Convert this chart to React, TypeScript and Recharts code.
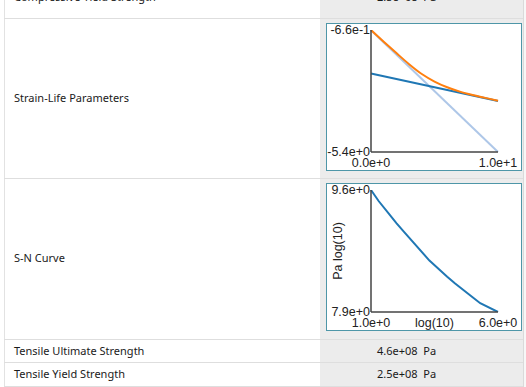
import { Label, Line, LineChart, XAxis, YAxis } from "recharts";

// strain-life parameters, log10 strain against log10 reversals
const cycleTicks = [0, 10];
const strainTicks = [-5.37, -0.66];
const elasticCycles = [0, 10];
const elasticStrain = [-2.34, -3.4];
const plasticCycles = [0, 10];
const plasticStrain = [-0.67, -5.37];
const totalCycles = [0, 1, 2, 3, 4, 5, 6, 7, 8, 9, 10];
const totalStrain = [
  -0.66, -1.11, -1.55, -1.98, -2.36, -2.65, -2.87, -3.04, -3.17, -3.28, -3.39,
];

// S-N curve, log10 stress against log10 cycles
const snCycleTicks = [1, 6];
const snStressTicks = [7.94, 9.6];
const snCycles = [1, 1.3, 1.7, 2, 2.3, 3.3, 4, 4.3, 5, 5.3, 6];
const snStress = [9.6, 9.45, 9.28, 9.15, 9.03, 8.64, 8.42, 8.33, 8.14, 8.06, 7.94];

const rowLabels = [
  "Compressive Yield Strength",
  "Strain-Life Parameters",
  "S-N Curve",
  "Tensile Ultimate Strength",
  "Tensile Yield Strength",
];
const rowValues = ["2.5e+08", "", "", "4.6e+08", "2.5e+08"];
const valueUnit = "Pa";

const toPoints = (xs: number[], ys: number[]) =>
  xs.map((x, i) => ({ x, y: ys[i] }));

const fmt = (v: number) => v.toExponential(1);

const tickStyle = {
  fontFamily: "'Liberation Sans', Arial, sans-serif",
  fontSize: 12.5,
  fill: "#222",
};
const axisLine = { stroke: "#444", strokeWidth: 1.5 };

// text centre of each row, and row borders
const rowCentres = [-3, 97.5, 258, 351, 374];
const rowLines = [18, 178, 339, 362, 386];

const boxStyle = (top: number): React.CSSProperties => ({
  position: "absolute",
  left: 326,
  top,
  width: 194,
  height: 146,
  border: "1px solid #4e96a8",
  background: "#fff",
});

function YTitle(props: any) {
  const vb = props.viewBox || { x: 0, y: 6, width: 44, height: 122 };
  const cx = vb.x + 11;
  const cy = vb.y + vb.height / 2;
  return (
    <text
      x={cx}
      y={cy}
      transform={`rotate(-90, ${cx}, ${cy})`}
      textAnchor="middle"
      dominantBaseline="central"
      style={tickStyle}
    >
      Pa log(10)
    </text>
  );
}

function StrainLifeChart() {
  return (
    <LineChart
      width={194}
      height={146}
      margin={{ top: 6, right: 23, bottom: 0, left: 0 }}
    >
      <XAxis
        type="number"
        dataKey="x"
        domain={[0, 10]}
        ticks={cycleTicks}
        interval={0}
        tickFormatter={fmt}
        tickLine={false}
        tickSize={0}
        tickMargin={6}
        height={18}
        axisLine={axisLine}
        tick={tickStyle}
      />
      <YAxis
        type="number"
        dataKey="y"
        domain={[strainTicks[0], strainTicks[1]]}
        allowDataOverflow
        ticks={strainTicks}
        interval={0}
        tickFormatter={fmt}
        tickLine={false}
        tickSize={0}
        tickMargin={1}
        width={44}
        axisLine={axisLine}
        tick={tickStyle}
      />
      <Line
        data={toPoints(plasticCycles, plasticStrain)}
        dataKey="y"
        stroke="#aec7e8"
        strokeWidth={2}
        dot={false}
        type="linear"
        isAnimationActive={false}
      />
      <Line
        data={toPoints(elasticCycles, elasticStrain)}
        dataKey="y"
        stroke="#1f77b4"
        strokeWidth={2}
        dot={false}
        type="linear"
        isAnimationActive={false}
      />
      <Line
        data={toPoints(totalCycles, totalStrain)}
        dataKey="y"
        stroke="#ff7f0e"
        strokeWidth={2}
        dot={false}
        type="monotone"
        isAnimationActive={false}
      />
    </LineChart>
  );
}

function SNChart() {
  return (
    <LineChart
      width={194}
      height={146}
      margin={{ top: 6, right: 23, bottom: 0, left: 0 }}
    >
      <XAxis
        type="number"
        dataKey="x"
        domain={[1, 6]}
        ticks={snCycleTicks}
        interval={0}
        tickFormatter={fmt}
        tickLine={false}
        tickSize={0}
        tickMargin={6}
        height={18}
        axisLine={axisLine}
        tick={tickStyle}
      >
        <Label
          value="log(10)"
          position="insideBottom"
          offset={3}
          style={tickStyle}
        />
      </XAxis>
      <YAxis
        type="number"
        dataKey="y"
        domain={[snStressTicks[0], snStressTicks[1]]}
        allowDataOverflow
        ticks={snStressTicks}
        interval={0}
        tickFormatter={fmt}
        tickLine={false}
        tickSize={0}
        tickMargin={1}
        width={44}
        axisLine={axisLine}
        tick={tickStyle}
      >
        <Label content={YTitle} />
      </YAxis>
      <Line
        data={toPoints(snCycles, snStress)}
        dataKey="y"
        stroke="#1f77b4"
        strokeWidth={2}
        dot={false}
        type="linear"
        isAnimationActive={false}
      />
    </LineChart>
  );
}

export default function App() {
  const textStyle: React.CSSProperties = {
    position: "absolute",
    height: 20,
    lineHeight: "20px",
    fontFamily: "'Noto Sans', 'Open Sans', sans-serif",
    fontSize: 11,
    color: "#1a1a1a",
    whiteSpace: "pre",
  };
  return (
    <div
      style={{
        position: "absolute",
        left: 0,
        top: 0,
        width: 526,
        height: 387,
        overflow: "hidden",
        background: "#fff",
      }}
    >
      <div
        style={{
          position: "absolute",
          left: 320,
          top: 0,
          width: 203,
          height: 387,
          background: "#ececec",
        }}
      />
      <div
        style={{
          position: "absolute",
          left: 523,
          top: 0,
          width: 3,
          height: 387,
          background: "#f7f7f7",
          borderLeft: "1px solid #dadada",
        }}
      />
      <div
        style={{
          position: "absolute",
          left: 4,
          top: 0,
          width: 1,
          height: 387,
          background: "#e2e2e2",
        }}
      />
      {rowLines.map((y) => (
        <div
          key={y}
          style={{
            position: "absolute",
            left: 4,
            top: y,
            width: 519,
            height: 1,
            background: "#dedede",
          }}
        />
      ))}
      {rowLabels.map((label, i) => (
        <div key={label} style={{ ...textStyle, left: 14, top: rowCentres[i] - 10 }}>
          {label}
        </div>
      ))}
      {rowValues.map((v, i) =>
        v ? (
          <div key={i} style={{ ...textStyle, left: 377, top: rowCentres[i] - 10 }}>
            {v + "  " + valueUnit}
          </div>
        ) : null,
      )}
      <div style={boxStyle(23)}>
        <StrainLifeChart />
      </div>
      <div style={boxStyle(183)}>
        <SNChart />
      </div>
    </div>
  );
}
